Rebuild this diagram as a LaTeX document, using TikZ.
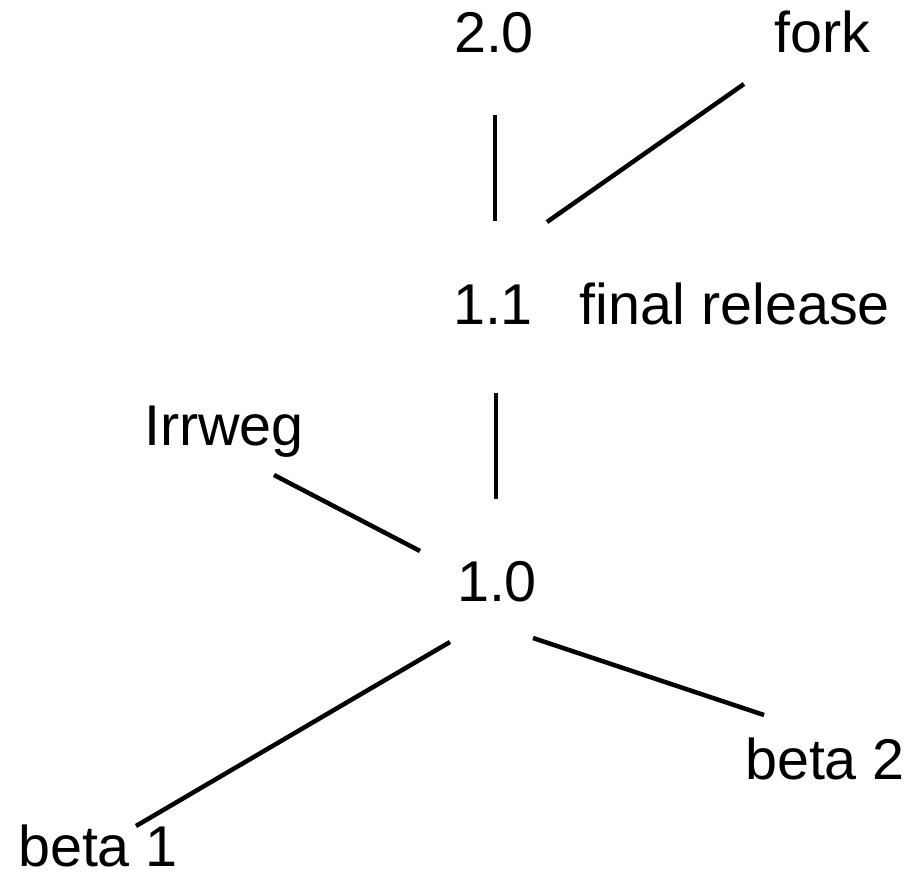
\documentclass[tikz,border=0pt]{standalone}
\usepackage{fontspec}
\setmainfont{Liberation Sans}
\begin{document}
\begin{tikzpicture}[x=1pt,y=1pt,
  lbl/.style={anchor=base,inner sep=0pt,font=\fontsize{57.5}{69}\selectfont},
  edge/.style={line width=4.5pt,black}]
\useasboundingbox (0,0) rectangle (911,876);
\node[lbl] (n20) at (494,823) {2.0};
\node[lbl] (fork) at (822,823) {fork};
\node[lbl] (n11) at (493,551) {1.1};
\node[lbl] (final) at (735,551) {final release};
\node[lbl] (irrweg) at (224,430) {Irrweg};
\node[lbl] (n10) at (497,274) {1.0};
\node[lbl] (beta2) at (825,96) {beta 2};
\node[lbl] (beta1) at (98,9) {beta 1};
\coordinate (a1) at (495,761); \coordinate (a2) at (495,655);
\coordinate (b1) at (547,654); \coordinate (b2) at (744,792);
\coordinate (c1) at (496,483); \coordinate (c2) at (496,377);
\coordinate (d1) at (274,401); \coordinate (d2) at (420,325);
\coordinate (e1) at (450,234); \coordinate (e2) at (136,50);
\coordinate (f1) at (533,238); \coordinate (f2) at (764,161);
\draw[edge] (a1) -- (a2);
\draw[edge] (b1) -- (b2);
\draw[edge] (c1) -- (c2);
\draw[edge] (d1) -- (d2);
\draw[edge] (e1) -- (e2);
\draw[edge] (f1) -- (f2);
\end{tikzpicture}
\end{document}
